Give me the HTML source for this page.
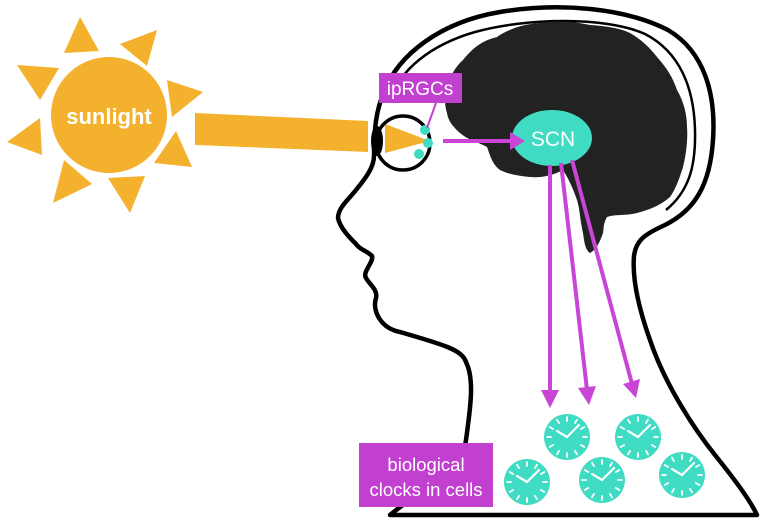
<!DOCTYPE html>
<html><head><meta charset="utf-8"><style>
html,body{margin:0;padding:0;background:#fff;}
svg{display:block;}
</style></head><body>
<svg width="765" height="521" viewBox="0 0 765 521" xmlns="http://www.w3.org/2000/svg">
<defs>
<g id="clock">
<circle r="23" fill="#3fdcc3"/>
<g stroke="#fff" stroke-width="1.8" stroke-linecap="round">
<line x1="0" y1="-20" x2="0" y2="-16"/><line x1="0" y1="20" x2="0" y2="16"/>
<line x1="-20" y1="0" x2="-16" y2="0"/><line x1="20" y1="0" x2="16" y2="0"/>
<line x1="10" y1="-17.3" x2="8" y2="-13.9"/><line x1="17.3" y1="-10" x2="13.9" y2="-8"/>
<line x1="17.3" y1="10" x2="13.9" y2="8"/><line x1="10" y1="17.3" x2="8" y2="13.9"/>
<line x1="-10" y1="17.3" x2="-8" y2="13.9"/><line x1="-17.3" y1="10" x2="-13.9" y2="8"/>
<line x1="-17.3" y1="-10" x2="-13.9" y2="-8"/><line x1="-10" y1="-17.3" x2="-8" y2="-13.9"/>
<line x1="0" y1="0" x2="-10" y2="-6" stroke-width="2.2"/>
<line x1="0" y1="0" x2="12" y2="-12" stroke-width="2.2"/>
</g>
</g>
</defs>
<!-- sun -->
<g fill="#f4b12d">
<polygon points="80,17 64,53 99,51"/>
<polygon points="157,30 120,44 147,66"/>
<polygon points="203,92 167,80 172,117"/>
<polygon points="192,167 176,131 154,163"/>
<polygon points="130,213 145,176 108,178"/>
<polygon points="53,203 92,184 64,160"/>
<polygon points="7,142 42,155 40,118"/>
<polygon points="17,65 40,100 59,68"/>
<circle cx="109" cy="115" r="58"/>
</g>
<text x="109" y="124" font-family="Liberation Sans, sans-serif" font-weight="bold" font-size="22" fill="#fff" text-anchor="middle">sunlight</text>
<!-- beam -->
<polygon points="195,113 368,121 368,152 195,145" fill="#f4b12d"/>
<!-- head outline -->
<path d="M390,515 C420,490 462,470 466,440 C470,410 475,380 466,362 C462,350 445,345 400,332 C380,328 372,310 376,298 C378,290 370,285 366,278 C362,272 374,262 372,256 C366,250 360,250 356,244 C350,238 340,228 338,218 C338,208 348,200 356,190 C364,180 374,168 374,156 C374,130 376,110 384,92 C398,55 440,22 500,12 C560,2 625,8 668,30 C705,52 716,95 713,140 C710,185 695,210 665,225 C645,234 636,240 634,256 C632,280 640,312 650,340 C665,385 695,430 715,455 C735,480 750,500 757,515 Z" fill="none" stroke="#000" stroke-width="4.5" stroke-linejoin="round"/>
<path d="M390,100 C400,70 430,45 475,32 C525,18 605,16 645,34 C680,52 694,88 695,130 C696,168 688,192 666,210" fill="none" stroke="#000" stroke-width="2.5"/>
<!-- brain -->
<path d="M463,60 C475,45 485,40 497,37 C510,28 525,24 540,23 C560,20 575,22 590,25 C605,26 620,28 630,33 C642,40 650,48 657,57 C667,68 673,78 677,90 C684,102 687,115 687,127 C688,140 686,155 683,167 C679,180 675,190 670,197 C660,206 648,210 637,213 C627,216 615,214 607,217 C603,224 604,228 603,233 C600,242 596,250 590,253 C585,250 584,240 583,233 C580,220 580,210 577,200 C573,188 568,178 563,170 C552,176 540,178 530,177 C518,176 508,174 500,170 C492,164 490,155 487,147 C478,142 468,140 460,133 C452,126 448,120 447,113 C444,104 445,95 447,87 C450,76 456,66 463,60 Z" fill="#222"/>
<!-- SCN -->
<ellipse cx="552" cy="138" rx="40" ry="28" fill="#3fdcc3"/>
<text x="553" y="146" font-family="Liberation Sans, sans-serif" font-size="21" fill="#fff" text-anchor="middle">SCN</text>
<!-- eye -->
<polygon points="385,124 430,141 385,153" fill="#f4b12d"/>
<circle cx="403" cy="143" r="27" fill="none" stroke="#000" stroke-width="3.5"/>
<ellipse cx="377" cy="141" rx="6" ry="15" fill="#000"/>
<g fill="#3fdcc3">
<circle cx="425" cy="130" r="5"/><circle cx="428" cy="143" r="5"/><circle cx="419" cy="154" r="5"/>
</g>
<!-- ipRGCs -->
<rect x="379" y="73" width="83" height="30" fill="#c240cf"/>
<text x="420" y="95" font-family="Liberation Sans, sans-serif" font-size="19" fill="#fff" text-anchor="middle">ipRGCs</text>
<line x1="436" y1="103" x2="427" y2="128" stroke="#c240cf" stroke-width="2"/>
<!-- arrows -->
<g stroke="#c845d6" stroke-width="4" fill="none">
<line x1="443" y1="141" x2="512" y2="141"/>
<line x1="550" y1="165" x2="550" y2="392"/>
<line x1="561" y1="163" x2="587" y2="390"/>
<line x1="572" y1="160" x2="632" y2="384"/>
</g>
<g fill="#c845d6">
<polygon points="510,132 525,141 510,150"/>
<polygon points="541,390 559,390 550,408"/>
<polygon points="578,388 596,386 589,405"/>
<polygon points="623,384 640,379 636,398"/>
</g>
<!-- clocks -->
<use href="#clock" x="567" y="437"/>
<use href="#clock" x="638" y="437"/>
<use href="#clock" x="527" y="482"/>
<use href="#clock" x="602" y="480"/>
<use href="#clock" x="682" y="475"/>
<!-- box -->
<rect x="359" y="443" width="134" height="64" fill="#c240cf"/>
<text font-family="Liberation Sans, sans-serif" font-size="18.5" fill="#fff" text-anchor="middle"><tspan x="426" y="471">biological</tspan><tspan x="426" y="496">clocks in cells</tspan></text>
</svg>
</body></html>
